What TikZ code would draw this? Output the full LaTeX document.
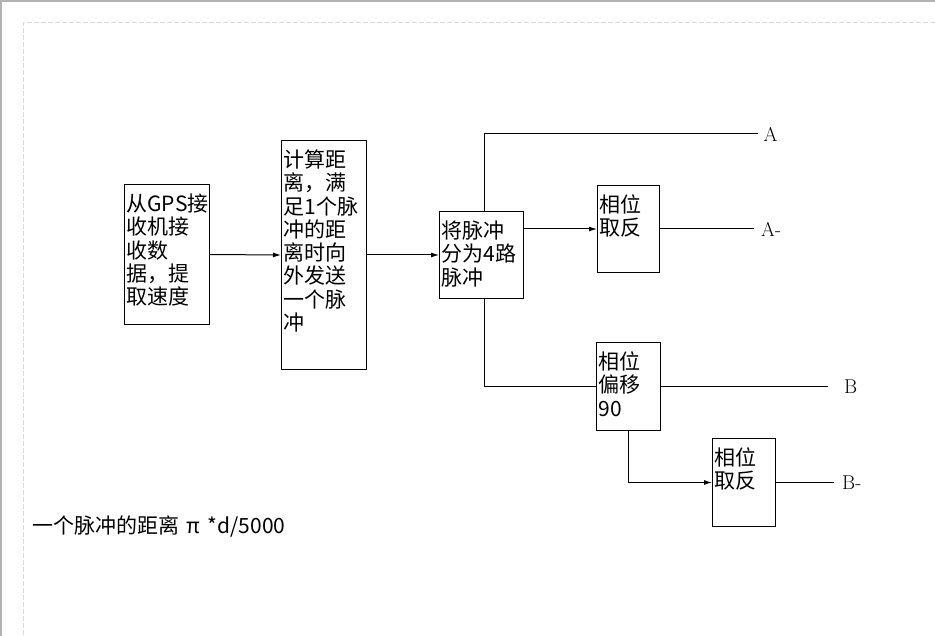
\documentclass[tikz,border=0pt]{standalone}
\usepackage{fontspec}
\usepackage{tikz}
\usetikzlibrary{arrows.meta,positioning}
\newfontfamily\cjk{Noto Sans CJK SC}
\tikzset{
	blk/.style={draw, line width=1pt, anchor=north west, align=left, inner xsep=2pt, inner ysep=4pt, text height=23pt, font=\cjk\fontsize{21}{23.3}\selectfont},
	arr/.style={line width=1pt, -{Latex[length=8pt,width=5pt]}},
	wire/.style={line width=1pt},
	lbl/.style={inner sep=0pt, font=\fontsize{20}{24}\selectfont},
}

\begin{document}
\begin{tikzpicture}[x=1pt, y=-1pt]
			%%%%% START %%%%%
			\useasboundingbox (0,0) rectangle (935,636);
			
			\draw[line width=2pt, color=black!30] (0,1) -- (935,1);
			\draw[line width=2pt, color=black!30] (1,0) -- (1,636);
			\draw[line width=1pt, color=black!15, dash pattern=on 5pt off 2pt] (935,23) -- (23,23) -- (23,636);
			
			\node[blk, text width=81pt, text depth=109pt] (gps) at (124,184) {从GPS接\\收机接\\收数\\据，提\\取速度};
			\node[blk, text width=81pt, text depth=198pt] (calc) at (281,140) {计算距\\离，满\\足1个脉\\冲的距\\离时向\\外发送\\一个脉\\冲};
			\node[blk, text width=80pt, text depth=56pt] (split) at (439,211) {将脉冲\\分为4路\\脉冲};
			
			\node[blk, text width=58pt, text depth=56pt] (inv1) at (597,185) {相位\\取反};
			\node[blk, text width=60pt, text depth=57pt] (shift) at (596,342) {相位\\偏移\\90};
			\node[blk, text width=59pt, text depth=57pt] (inv2) at (712,438) {相位\\取反};
			
			\draw[arr] (gps.east) -- (calc.west);
			\draw[arr] (calc.east) -- (split.west);
			\draw[arr] (split.east |- inv1.west) -- (inv1.west);
			
			\draw[wire] ([xshift=3pt]split.north) -- ++(0,-77) -- ++(273,0) coordinate (endA);
			\draw[wire] (inv1.east) -- ++(94,0) coordinate (endAn);
			\draw[wire] ([xshift=3pt]split.south) |- (shift.west);
			\draw[wire] (shift.east) -- ++(167,0) coordinate (endB);
			\draw[arr] (shift.south) |- (inv2.west);
			\draw[wire] (inv2.east) -- ++(58,0) coordinate (endBn);
			
			\node[lbl, right=6pt of endA] (labA) {A};
			\node[lbl, right=7pt of endAn] (labAn) {A-};
			\node[lbl, right=16pt of endB] (labB) {B};
			\node[lbl, right=8pt of endBn] (labBn) {B-};
			
			\node[inner sep=0pt, anchor=west, font=\cjk\fontsize{21}{24}\selectfont] (note) at (32,526) {一个脉冲的距离\hspace{7pt}π\hspace{8pt}*d/5000};
			%%%%% END %%%%%
\end{tikzpicture}
\end{document}
